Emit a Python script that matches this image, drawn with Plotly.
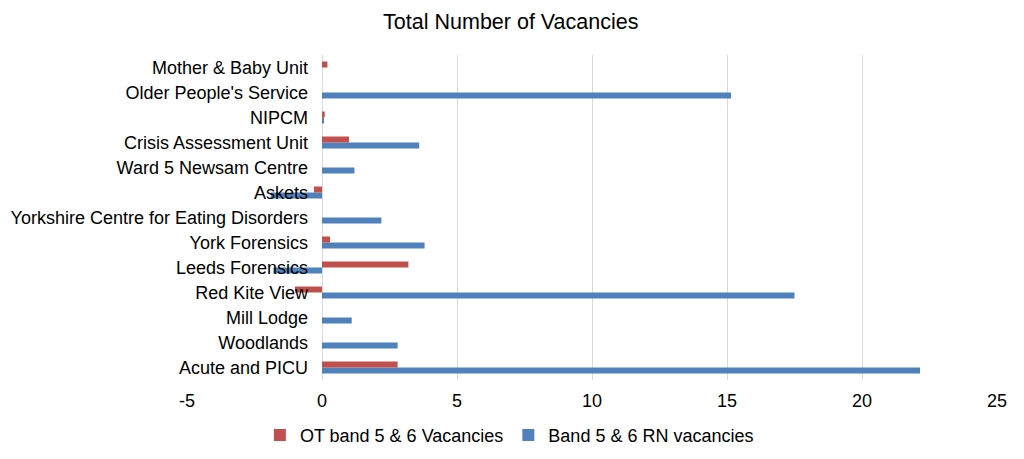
import plotly.graph_objects as go

# ward / unit names, bottom to top as they appear on the chart
units = [
    "Acute and PICU", "Woodlands", "Mill Lodge", "Red Kite View",
    "Leeds Forensics", "York Forensics", "Yorkshire Centre for Eating Disorders",
    "Askets", "Ward 5 Newsam Centre", "Crisis Assessment Unit", "NIPCM",
    "Older People's Service", "Mother & Baby Unit",
]

ot_vacancies = [2.8, 0, 0, -1.0, 3.2, 0.3, 0, -0.3, 0, 1.0, 0.1, 0, 0.2]
rn_vacancies = [22.15, 2.8, 1.1, 17.5, -1.8, 3.8, 2.2, -1.9, 1.2, 3.6, 0.05, 15.15, 0]

xticks = [-5, 0, 5, 10, 15, 20, 25]
xtick_text = [str(v) for v in xticks]   # plain hyphen, not the unicode minus

fig = go.Figure()

# blue added first so it sits underneath the red bar in each group
fig.add_trace(go.Bar(
    y=units, x=rn_vacancies, orientation='h',
    name='Band 5 & 6 RN vacancies',
    marker=dict(color='#4f81bd', line=dict(width=0)),
))
fig.add_trace(go.Bar(
    y=units, x=ot_vacancies, orientation='h',
    name='OT band 5 & 6 Vacancies',
    marker=dict(color='#c0504d', line=dict(width=0)),
))

# page body has an 8px margin, so everything is placed 8px up/left
fig.update_layout(
    width=1024, height=459,
    paper_bgcolor='white', plot_bgcolor='white',
    font=dict(family='Liberation Sans, Arial, sans-serif', size=18, color='#000000'),
    title=dict(text='Total Number of Vacancies', x=0.491, xanchor='center',
               y=0.97, yanchor='middle', font=dict(size=21.5)),
    barmode='group', bargap=0.52, bargroupgap=0,
    margin=dict(l=179, r=35, t=47, b=87),
    showlegend=True,
    legend=dict(orientation='h', traceorder='reversed', x=0.398, xanchor='center',
                y=-0.17, yanchor='middle', font=dict(size=18),
                itemwidth=30),
    xaxis=dict(range=[-5, 25], tickvals=xticks, ticktext=xtick_text,
               showgrid=True, gridcolor='#d9d9d9', gridwidth=1,
               zeroline=False, showline=False, ticks='', fixedrange=True,
               ticklabelstandoff=8),
    yaxis=dict(type='category', categoryorder='array', categoryarray=units,
               anchor='free', position=1/6, automargin=False, showgrid=False,
               zeroline=False, showline=False, ticks='', ticklabelstandoff=14),
)

fig.write_html("out.html")
